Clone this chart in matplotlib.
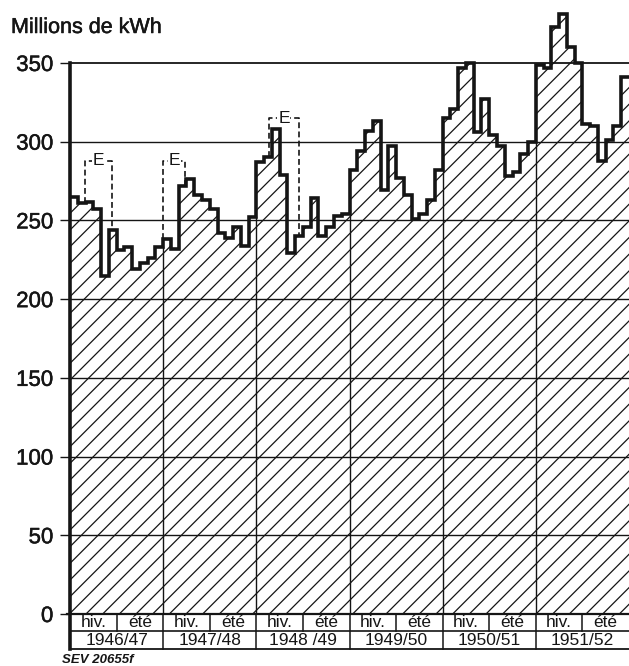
import numpy as np
import matplotlib
matplotlib.use('Agg')
import matplotlib.pyplot as plt
import matplotlib.patheffects as pe

plt.rcParams['font.family'] = ['Liberation Sans Narrow', 'Liberation Sans', 'DejaVu Sans']
plt.rcParams['hatch.linewidth'] = 0.9

# valeurs mensuelles (oct. -> sept.), millions de kWh
y1946 = [265, 261, 262, 257, 215, 244, 231, 233, 219, 223, 226, 233]
y1947 = [238, 232, 272, 276, 266, 263, 257, 242, 239, 246, 234, 252]
y1948 = [287, 290, 308, 279, 229, 240, 246, 264, 240, 246, 253, 254]
y1949 = [282, 294, 307, 313, 269, 297, 277, 266, 251, 254, 263, 282]
y1950 = [315, 321, 347, 350, 306, 327, 304, 297, 278, 281, 292, 300]
y1951 = [349, 347, 373, 381, 360, 350, 311, 310, 288, 301, 310, 341]
annees = ['1946/47', '1947/48', '1948 /49', '1949/50', '1950/51', '1951/52']
saisons = ['hiv.', 'été']

# cadres "E" (debut, fin en mois depuis oct. 1946, hauteur)
e_debut = [1.9, 12.0, 25.6]
e_fin = [5.45, 14.85, 29.5]
e_haut = [288, 288, 315]

valeurs = np.array(y1946 + y1947 + y1948 + y1949 + y1950 + y1951, dtype=float)
n = len(valeurs)
bords = np.arange(n + 1)

noir = '#151515'
gras = [pe.withStroke(linewidth=0.35, foreground=noir)]

fig = plt.figure(figsize=(6.29, 6.66), dpi=100)
ax = fig.add_axes([70 / 629, 52 / 666, 559 / 629, 614 / 666])
ax.set_xlim(0, n)
ax.set_ylim(0, 390)
for s in ax.spines.values():
    s.set_visible(False)

# surface hachuree
ax.fill_between(bords, np.append(valeurs, valeurs[-1]), 0, step='post',
                facecolor='white', edgecolor=noir, hatch='//', linewidth=0, zorder=1)

# lignes horizontales
for g in range(50, 301, 50):
    ax.plot([0, n], [g, g], color=noir, lw=1.0, zorder=2)
ax.plot([0, n], [350, 350], color=noir, lw=1.3, zorder=2)

# separations des annees (dans la surface)
for k in range(1, 6):
    i = 12 * k
    ax.plot([i, i], [0, min(valeurs[i - 1], valeurs[i])], color=noir, lw=1.0, zorder=2)

# contour en escalier
ax.stairs(valeurs, bords, baseline=None, color=noir, lw=2.6, zorder=4)

# cadres E
def val_a(x):
    return valeurs[min(int(x), n - 1)]

for a, b, h in zip(e_debut, e_fin, e_haut):
    ax.plot([a, a, b, b], [val_a(a), h, h, val_a(b)], color=noir, lw=1.2,
            dashes=(3.5, 2), zorder=3)
    ax.text((a + b) / 2, h, 'E', ha='center', va='center', fontsize=12.5, color=noir,
            zorder=5, bbox=dict(facecolor='white', edgecolor='none', pad=0.5))

# axe y
ax.set_yticks(range(0, 351, 50))
ax.set_xticks([])
ax.tick_params(axis='y', direction='out', length=7, width=1.0, color=noir,
               pad=5, labelsize=16, labelcolor=noir)
for t in ax.get_yticklabels():
    t.set_path_effects(gras)
ax.plot([0, 0], [-22.5, 350], color=noir, lw=2.6, zorder=5, clip_on=False)

# tableau sous l'axe
ax.plot([-0.4, n], [0, 0], color=noir, lw=1.6, zorder=5, clip_on=False)
ax.plot([0, n], [-11, -11], color=noir, lw=1.2, clip_on=False)
ax.plot([0, n], [-22.5, -22.5], color=noir, lw=1.3, clip_on=False)
for k, an in enumerate(annees):
    d = 12 * k
    if k > 0:
        ax.plot([d, d], [0, -22.5], color=noir, lw=1.1, clip_on=False)
    ax.plot([d + 6, d + 6], [0, -11], color=noir, lw=1.1, clip_on=False)
    ax.text(d + 3, -5.6, saisons[0], ha='center', va='center', fontsize=12.5, color=noir)
    ax.text(d + 9, -5.6, saisons[1], ha='center', va='center', fontsize=12.5, color=noir)
    ax.text(d + 6, -16.8, an, ha='center', va='center', fontsize=12.5, color=noir)

fig.text(11 / 629, 1 - 33 / 666, 'Millions de kWh', fontsize=15.5, color=noir,
         va='baseline', path_effects=gras)
fig.text(62 / 629, 1 - 660 / 666, 'SEV 20655f', fontsize=9.5, style='italic',
         weight='bold', color=noir, va='center')

fig.savefig('out.png', dpi=100, facecolor='white')
